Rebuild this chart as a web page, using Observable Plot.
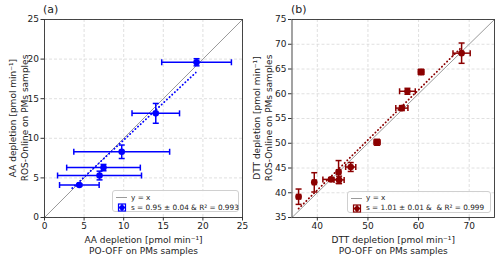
<!DOCTYPE html>
<html>
<head>
<meta charset="utf-8">
<script src="https://cdn.jsdelivr.net/npm/d3@7"></script>
<script src="https://cdn.jsdelivr.net/npm/@observablehq/plot@0.6"></script>
<style>
  body { margin: 0; background: #fff; font-family: "DejaVu Sans", sans-serif; }
  #wrap { position: relative; width: 500px; height: 259px; overflow: hidden; }
  .panel { position: absolute; top: 0; width: 250px; height: 259px; }
  .title { position: absolute; font-size: 11px; color: #222; }
  .ylab { position: absolute; width: 200px; height: 24px; font-size: 9px; line-height: 12px; color: #222; text-align: center; white-space: nowrap; transform: rotate(-90deg); transform-origin: 50% 50%; }
  .legend { position: absolute; border: 1px solid #d0d0d0; border-radius: 3px; background: rgba(255,255,255,0.85); box-sizing: border-box; }
  .legend .t { position: absolute; font-size: 7.3px; color: #222; white-space: nowrap; line-height: 1; }
  .legend svg { position: absolute; left: 0; top: 0; }
</style>
</head>
<body>
<div id="wrap"></div>
<script>
// ---- Panel (a): AA depletion ----
const aX    = [4.4, 6.95, 7.45, 9.75, 14.05, 19.2];
const aY    = [4.1, 5.3, 6.3, 8.3, 13.15, 19.6];
const aXErr = [2.5, 5.3, 4.65, 6.05, 3.0, 4.4];
const aYErr = [0.15, 0.55, 0.4, 0.85, 1.25, 0.45];
const aFitX = [3.5, 19.1];
const aFitY = [3.7, 18.3];
const aTicks = [0, 5, 10, 15, 20, 25];

// ---- Panel (b): DTT depletion ----
const bX    = [36.3, 39.4, 42.7, 44.2, 44.3, 46.6, 51.8, 56.7, 57.8, 60.5, 68.5];
const bY    = [39.2, 42.1, 42.7, 44.2, 42.6, 45.2, 50.2, 57.1, 60.5, 64.4, 68.2];
const bXErr = [0.4, 0.35, 1.6, 0.4, 1.0, 1.0, 0.6, 1.2, 1.55, 0.55, 1.7];
const bYErr = [1.55, 1.95, 0.35, 2.3, 0.75, 0.9, 0.6, 0.5, 0.6, 0.55, 2.05];
const bFitX = [36.3, 68.6];
const bFitY = [36.8, 69.5];
const bTicksX = [40, 50, 60, 70];
const bTicksY = [35, 40, 45, 50, 55, 60, 65, 70, 75];

const vcap = {draw(ctx, size) { const r = Math.sqrt(size / Math.PI); ctx.moveTo(0, -r); ctx.lineTo(0, r); }};
const hcap = {draw(ctx, size) { const r = Math.sqrt(size / Math.PI); ctx.moveTo(-r, 0); ctx.lineTo(r, 0); }};

function panel({xs, ys, xe, ye, fitX, fitY, domain, ticksX, ticksY, color, ml, mr, xlabel}) {
  const data = xs.map((x, i) => ({x, y: ys[i], xe: xe[i], ye: ye[i]}));
  const fit = fitX.map((x, i) => ({x, y: fitY[i]}));
  const diag = domain.map(v => ({x: v, y: v}));
  const ew = 1.5;
  return Plot.plot({
    width: 250, height: 259,
    marginLeft: ml, marginRight: mr, marginTop: 19, marginBottom: 42,
    x: {domain, label: null},
    y: {domain, label: null},
    style: {fontFamily: "DejaVu Sans", fontSize: "9px", color: "#222", background: "transparent", overflow: "visible"},
    marks: [
      Plot.gridX(ticksX, {stroke: "#d8d8d8", strokeOpacity: 1, strokeDasharray: "3,2", strokeWidth: 0.8}),
      Plot.gridY(ticksY, {stroke: "#d8d8d8", strokeOpacity: 1, strokeDasharray: "3,2", strokeWidth: 0.8}),
      Plot.line(diag, {x: "x", y: "y", stroke: "#9a9a9a", strokeWidth: 1}),
      Plot.line(fit, {x: "x", y: "y", stroke: color, strokeWidth: 1.8, strokeDasharray: "0.3,3.3", strokeLinecap: "round"}),
      Plot.link(data, {x1: d => d.x - d.xe, x2: d => d.x + d.xe, y1: "y", y2: "y", stroke: color, strokeWidth: ew}),
      Plot.link(data, {x1: "x", x2: "x", y1: d => d.y - d.ye, y2: d => d.y + d.ye, stroke: color, strokeWidth: ew}),
      Plot.dot(data, {x: d => d.x - d.xe, y: "y", symbol: vcap, r: 3, stroke: color, fill: "none", strokeWidth: ew}),
      Plot.dot(data, {x: d => d.x + d.xe, y: "y", symbol: vcap, r: 3, stroke: color, fill: "none", strokeWidth: ew}),
      Plot.dot(data, {x: "x", y: d => d.y - d.ye, symbol: hcap, r: 3, stroke: color, fill: "none", strokeWidth: ew}),
      Plot.dot(data, {x: "x", y: d => d.y + d.ye, symbol: hcap, r: 3, stroke: color, fill: "none", strokeWidth: ew}),
      Plot.dot(data, {x: "x", y: "y", r: 3.3, fill: color, stroke: "none"}),
      Plot.frame({stroke: "#333", strokeWidth: 0.9}),
      Plot.axisX(ticksX, {tickSize: 3.5, tickPadding: 2, label: null, stroke: "#333", fill: "#222"}),
      Plot.axisY(ticksY, {tickSize: 3.5, tickPadding: 2, label: null, stroke: "#333", fill: "#222"}),
      Plot.text([xlabel], {frameAnchor: "bottom", dy: 27.3, textAnchor: "middle", lineAnchor: "middle", lineHeight: 1.18, fontSize: 9, fill: "#222"})
    ]
  });
}

const wrap = document.getElementById("wrap");

function addPanel(left, svg) {
  const d = document.createElement("div");
  d.className = "panel";
  d.style.left = left + "px";
  d.appendChild(svg);
  wrap.appendChild(d);
}

addPanel(0, panel({
  xs: aX, ys: aY, xe: aXErr, ye: aYErr, fitX: aFitX, fitY: aFitY,
  domain: [0, 25], ticksX: aTicks, ticksY: aTicks, color: "#0000ff", ml: 44, mr: 8,
  xlabel: "AA depletion [pmol min⁻¹]\nPO-OFF on PMs samples"
}));
addPanel(250, panel({
  xs: bX, ys: bY, xe: bXErr, ye: bYErr, fitX: bFitX, fitY: bFitY,
  domain: [35, 75], ticksX: bTicksX, ticksY: bTicksY, color: "#8b0000", ml: 41.5, mr: 6,
  xlabel: "DTT depletion [pmol min⁻¹]\nPO-OFF on PMs samples"
}));

function ylabel(lines, cx, cy) {
  const d = document.createElement("div");
  d.className = "ylab";
  d.style.left = (cx - 100) + "px";
  d.style.top = (cy - 12) + "px";
  d.innerHTML = lines.join("<br>");
  wrap.appendChild(d);
}
ylabel(["AA depletion [pmol min⁻¹]", "ROS-Online on PMs samples"], 19, 118);
ylabel(["DTT depletion [pmol min⁻¹]", "ROS-Online on PMs samples"], 262.5, 118);

function title(text, left) {
  const t = document.createElement("div");
  t.className = "title";
  t.textContent = text;
  t.style.left = left + "px";
  t.style.top = "3px";
  wrap.appendChild(t);
}
title("(a)", 43);
title("(b)", 291);

function legend(left, top, width, color, label) {
  const L = document.createElement("div");
  L.className = "legend";
  L.style.left = left + "px";
  L.style.top = top + "px";
  L.style.width = width + "px";
  L.style.height = "22px";
  L.innerHTML = `
    <svg width="${width}" height="22">
      <line x1="3" x2="14" y1="6.5" y2="6.5" stroke="#9a9a9a" stroke-width="1"/>
      <rect x="5.5" y="13" width="7" height="7" fill="none" stroke="${color}" stroke-width="1.2"/>
      <line x1="5.5" x2="12.5" y1="16.5" y2="16.5" stroke="${color}" stroke-width="1.5"/>
      <line x1="9" x2="9" y1="13" y2="20" stroke="${color}" stroke-width="1.5"/>
      <circle cx="9" cy="16.5" r="2.6" fill="${color}"/>
    </svg>
    <div class="t" style="left:18px; top:2.5px">y = x</div>
    <div class="t" style="left:18px; top:12.8px">${label}</div>`;
  wrap.appendChild(L);
}
legend(112, 190, 127, "#0000ff", "s = 0.95 ± 0.04 &amp; R² = 0.993");
legend(347, 190.5, 144, "#8b0000", "s = 1.01 ± 0.01 &amp;&nbsp; &amp; R² = 0.999");
</script>
</body>
</html>
